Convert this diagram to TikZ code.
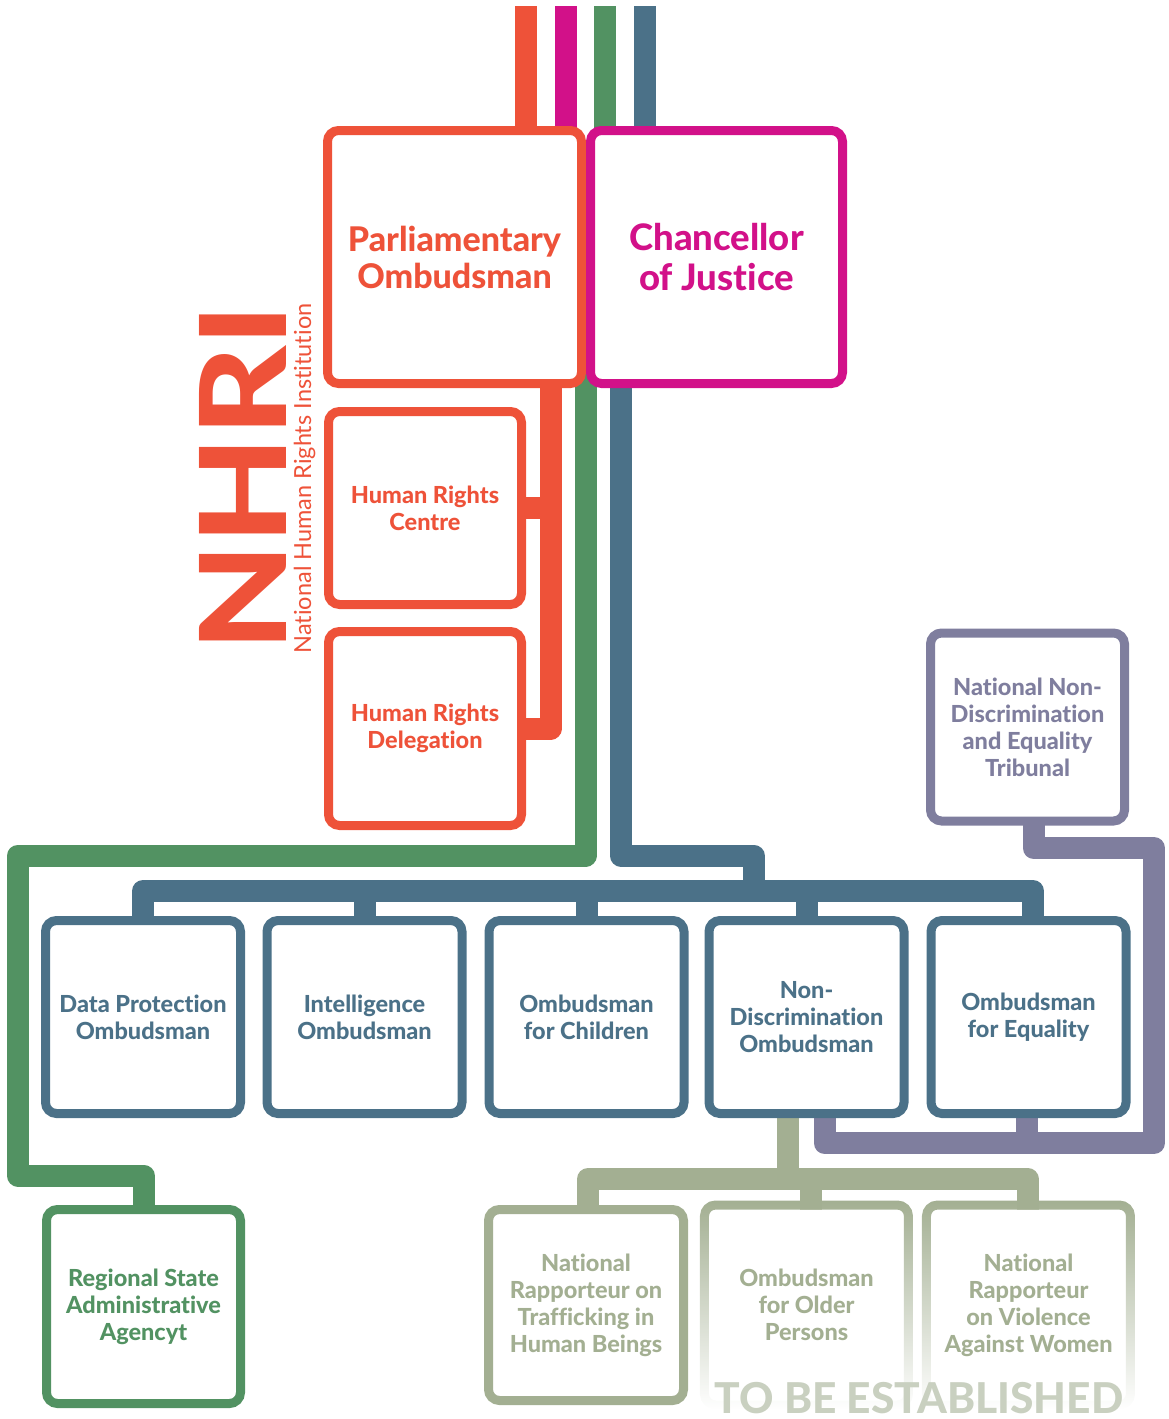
\documentclass[tikz,border=0pt]{standalone}
\usepackage{fontspec}
\setmainfont{Lato}[BoldFont={Lato Heavy}, Ligatures=NoCommon]
\usetikzlibrary{backgrounds,fadings}
\definecolor{cOr}{HTML}{EE5239}
\definecolor{cMa}{HTML}{D21189}
\definecolor{cGr}{HTML}{529262}
\definecolor{cBl}{HTML}{4B7188}
\definecolor{cPu}{HTML}{7F7E9E}
\definecolor{cSa}{HTML}{A3AF92}
\definecolor{cTbe}{HTML}{C9D0C0}
\begin{document}
\begin{tikzpicture}[x=1pt,y=-1pt,
  box/.style={draw, rectangle, rounded corners=11pt, line width=9pt, fill=white,
    align=center, inner sep=0pt, font=\bfseries\fontsize{23.5}{27}\selectfont},
  conn/.style={line width=22pt, line join=round, line cap=butt},
  fadebox/.style={line width=9pt, rounded corners=11pt, draw=cSa, path fading=south}
]
\useasboundingbox (0,0) rectangle (1168,1419);

% ---------- boxes ----------
\node[box, draw=cOr, text=cOr, minimum width=254pt, minimum height=253pt,
  font=\bfseries\fontsize{34}{37}\selectfont] (po) at (454.5,257) {Parliamentary\\Ombudsman};
\node[box, draw=cMa, text=cMa, minimum width=252pt, minimum height=253pt,
  font=\bfseries\fontsize{36.5}{40}\selectfont] (cj) at (716.5,257) {Chancellor\\of Justice};
\node[box, draw=cOr, text=cOr, minimum width=193pt, minimum height=193pt] (hrc) at (425,508) {Human Rights\\Centre};
\node[box, draw=cOr, text=cOr, minimum width=193pt, minimum height=194pt] (hrd) at (425,728.5) {Human Rights\\Delegation};
\node[box, draw=cPu, text=cPu, minimum width=194pt, minimum height=188pt] (tri) at (1027.5,727)
  {National Non-\\Discrimination\\and Equality\\Tribunal};

\node[box, draw=cBl, text=cBl, minimum width=195pt, minimum height=193pt] (dpo) at (143,1017) {Data Protection\\Ombudsman};
\node[box, draw=cBl, text=cBl, minimum width=195pt, minimum height=193pt] (io) at (364.5,1017) {Intelligence\\Ombudsman};
\node[box, draw=cBl, text=cBl, minimum width=195pt, minimum height=193pt] (ofc) at (586.5,1017) {Ombudsman\\for Children};
\node[box, draw=cBl, text=cBl, minimum width=195pt, minimum height=193pt] (ndo) at (806.5,1017) {Non-\\Discrimination\\Ombudsman};
\node[box, draw=cBl, text=cBl, minimum width=195pt, minimum height=193pt] (ofe) at (1028.5,1017) {Ombudsman\\for Equality};

\node[box, draw=cGr, text=cGr, minimum width=194pt, minimum height=194pt] (rsa) at (143.5,1306.5) {Regional State\\Administrative\\Agencyt};
\node[box, draw=cSa, text=cSa, minimum width=195pt, minimum height=191pt] (tra) at (586,1305) {National\\Rapporteur on\\Trafficking in\\Human Beings};
\node[box, draw=none, text=cSa, minimum width=195pt, minimum height=191pt] (oop) at (806.5,1305) {Ombudsman\\for Older\\Persons};
\node[box, draw=none, text=cSa, minimum width=195pt, minimum height=191pt] (vaw) at (1028.5,1305) {National\\Rapporteur\\on Violence\\Against Women};
\draw[fadebox] (oop.south west) rectangle (oop.north east);
\draw[fadebox] (vaw.south west) rectangle (vaw.north east);

% ---------- titles ----------
\node[rotate=90, anchor=base, text=cOr, inner sep=0pt,
  font=\bfseries\fontsize{120}{120}\selectfont] (nhri) at (286,478) {\scalebox{1.16}[1]{NHRI}};
\node[rotate=90, anchor=base, text=cOr, inner sep=0pt,
  font=\fontsize{23.5}{24}\selectfont] (nhrisub) at (311,478.5) {National Human Rights Institution};
\node[anchor=base, text=cTbe, inner sep=0pt, font=\bfseries\fontsize{42.5}{43}\selectfont] (tbe) at (919,1413) {TO BE ESTABLISHED};

% ---------- connectors ----------
\coordinate (tO) at (526,6);
\coordinate (tM) at (566,6);
\coordinate (tG) at (605,6);
\coordinate (tB) at (644.5,6);
\coordinate (xo) at (550.5,0);
\coordinate (xg) at (585.5,0);
\coordinate (xb) at (621,0);
\begin{scope}[on background layer]
  \draw[conn, draw=cOr] (tO) -- (tO |- po.center);
  \draw[conn, draw=cMa] (tM) -- (tM |- po.center);
  \draw[conn, draw=cGr] (tG) -- (tG |- cj.center);
  \draw[conn, draw=cBl] (tB) -- (tB |- cj.center);
  % orange
  \draw[conn, draw=cOr] (xo |- po.center) -- (xo |- hrd.center) -- (hrd.center);
  \draw[conn, draw=cOr] (hrc.center) -- (xo |- hrc.center);
  % green
  \draw[conn, draw=cGr] (xg |- po.center) -- (585.5,855.5) -- (18,855.5) -- (18,1175.5)
     -- (143.5,1175.5) -- (rsa.center);
  % blue
  \draw[conn, draw=cBl] (xb |- cj.center) -- (621,855.5) -- (753.5,855.5) -- (753.5,891);
  \draw[conn, draw=cBl] (dpo.center) -- (143,891) -- (1033,891) -- (1033,1017);
  \draw[conn, draw=cBl] (io.center) -- (io.center |- 0,891);
  \draw[conn, draw=cBl] (ofc.center) -- (ofc.center |- 0,891);
  \draw[conn, draw=cBl] (ndo.center) -- (ndo.center |- 0,891);
  % purple
  \draw[conn, draw=cPu] (1033.5,727) -- (1033.5,848) -- (1154,848) -- (1154,1143)
     -- (824.5,1143) -- (824.5,1017);
  \draw[conn, draw=cPu] (1027,1017) -- (1027,1143);
  % sage
  \draw[conn, draw=cSa] (788,1017) -- (788,1179);
  \draw[conn, draw=cSa] (tra.center -| 588,0) -- (588,1179) -- (1027.5,1179) -- (1027.5,1305);
  \draw[conn, draw=cSa] (810.5,1179) -- (810.5,1305);
\end{scope}
\end{tikzpicture}
\end{document}
